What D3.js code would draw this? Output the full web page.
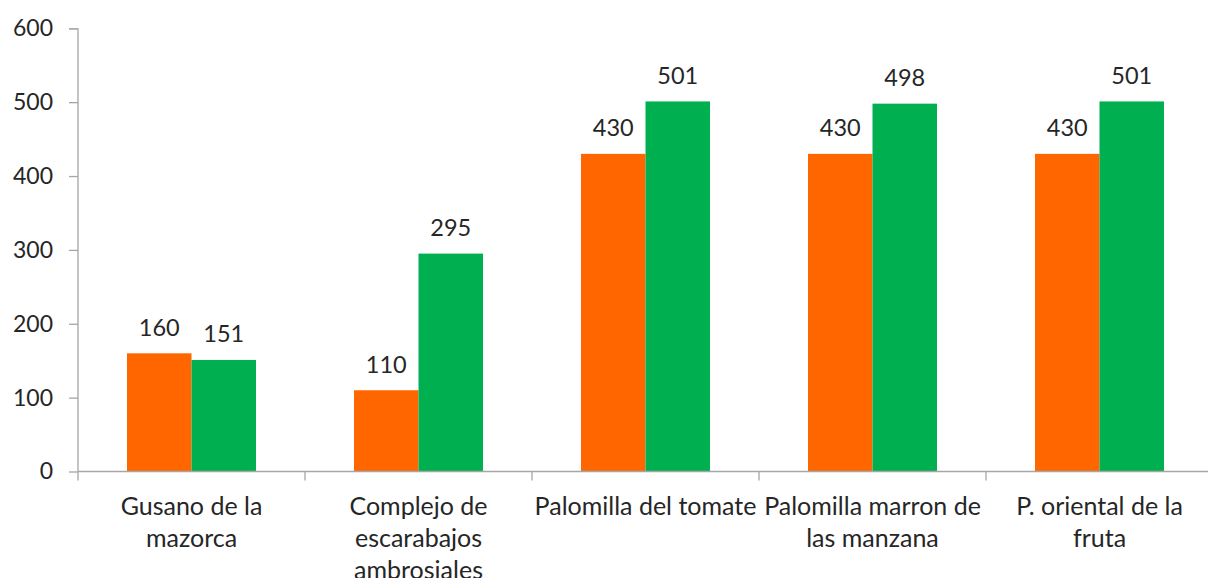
<!DOCTYPE html>
<html>
<head>
<meta charset="utf-8">
<script src="https://cdn.jsdelivr.net/npm/d3@7"></script>
<style>
  body { margin: 0; background: #fff; }
  text { font-family: Lato, "Noto Sans", sans-serif; fill: #262626; }
</style>
</head>
<body>
<div id="chart"></div>
<script>
// Data
const categories = ["Gusano de la mazorca", "Complejo de escarabajos ambrosiales", "Palomilla del tomate", "Palomilla marron de las manzana", "P. oriental de la fruta"];
const categoryLines = [
  ["Gusano de la", "mazorca"],
  ["Complejo de", "escarabajos", "ambrosiales"],
  ["Palomilla del tomate"],
  ["Palomilla marron de", "las manzana"],
  ["P. oriental de la", "fruta"]
];
const seriesNames = ["A", "B"];
const seriesA = [160, 110, 430, 430, 430];
const seriesB = [151, 295, 501, 498, 501];
const yTicks = [0, 100, 200, 300, 400, 500, 600];
const colors = ["#FF6600", "#00B050"];

// Dimensions
const W = 1208, H = 578;
const margin = { top: 28.3, left: 78, bottom: 106.5 };
const plotW = 227 * categories.length;
const plotH = H - margin.top - margin.bottom;

const svg = d3.select("#chart").append("svg")
    .attr("width", W)
    .attr("height", H);

const g = svg.append("g")
    .attr("transform", `translate(${margin.left},${margin.top})`);

// Scales
const x0 = d3.scaleBand()
    .domain(categories)
    .range([0, plotW])
    .padding(0);

const x1 = d3.scaleBand()
    .domain(seriesNames)
    .range([0, x0.bandwidth()])
    .paddingInner(0)
    .paddingOuter(0.76);

const y = d3.scaleLinear()
    .domain([0, 600])
    .range([plotH, 0]);

// Y axis
const yAxis = g.append("g")
    .call(d3.axisLeft(y).tickValues(yTicks).tickSize(9).tickPadding(16).tickFormat(d3.format("d")));
yAxis.selectAll("path, line").attr("stroke", "#A6A6A6").attr("stroke-width", 1.3);
yAxis.selectAll("text").style("font-size", "23px").attr("fill", "#262626");
yAxis.select(".domain").attr("d", `M-9,0.5H0V${plotH}`);

// Bars
const rows = categories.map((c, i) => ({ cat: c, vals: [seriesA[i], seriesB[i]] }));

const groups = g.selectAll(".grp")
    .data(rows)
    .enter().append("g")
    .attr("class", "grp")
    .attr("transform", d => `translate(${x0(d.cat)},0)`);

groups.selectAll("rect")
    .data(d => d.vals.map((v, j) => ({ key: seriesNames[j], v: v, j: j })))
    .enter().append("rect")
    .attr("x", d => x1(d.key))
    .attr("y", d => y(d.v))
    .attr("width", x1.bandwidth())
    .attr("height", d => plotH - y(d.v))
    .attr("fill", d => colors[d.j]);

// Data labels
groups.selectAll(".lbl")
    .data(d => d.vals.map((v, j) => ({ key: seriesNames[j], v: v })))
    .enter().append("text")
    .attr("class", "lbl")
    .attr("x", d => x1(d.key) + x1.bandwidth() / 2)
    .attr("y", d => y(d.v) - 17.5)
    .attr("text-anchor", "middle")
    .style("font-size", "23.5px")
    .text(d => d.v);

// X axis line
g.append("line")
    .attr("x1", 0).attr("x2", plotW)
    .attr("y1", plotH).attr("y2", plotH)
    .attr("stroke", "#A6A6A6")
    .attr("stroke-width", 1.3);

// Category boundary ticks
g.selectAll(".btick")
    .data(categories)
    .enter().append("line")
    .attr("class", "btick")
    .attr("x1", d => x0(d)).attr("x2", d => x0(d))
    .attr("y1", plotH).attr("y2", plotH + 9)
    .attr("stroke", "#A6A6A6")
    .attr("stroke-width", 1.3);

// Category labels
const labels = g.selectAll(".cat")
    .data(categories)
    .enter().append("text")
    .attr("class", "cat")
    .attr("text-anchor", "middle")
    .attr("transform", d => `translate(${x0(d) + x0.bandwidth() / 2},${plotH + 43})`)
    .style("font-size", "25px");

labels.selectAll("tspan")
    .data((d, i) => categoryLines[i])
    .enter().append("tspan")
    .attr("x", 0)
    .attr("y", (d, k) => k * 32)
    .text(d => d);
</script>
</body>
</html>
